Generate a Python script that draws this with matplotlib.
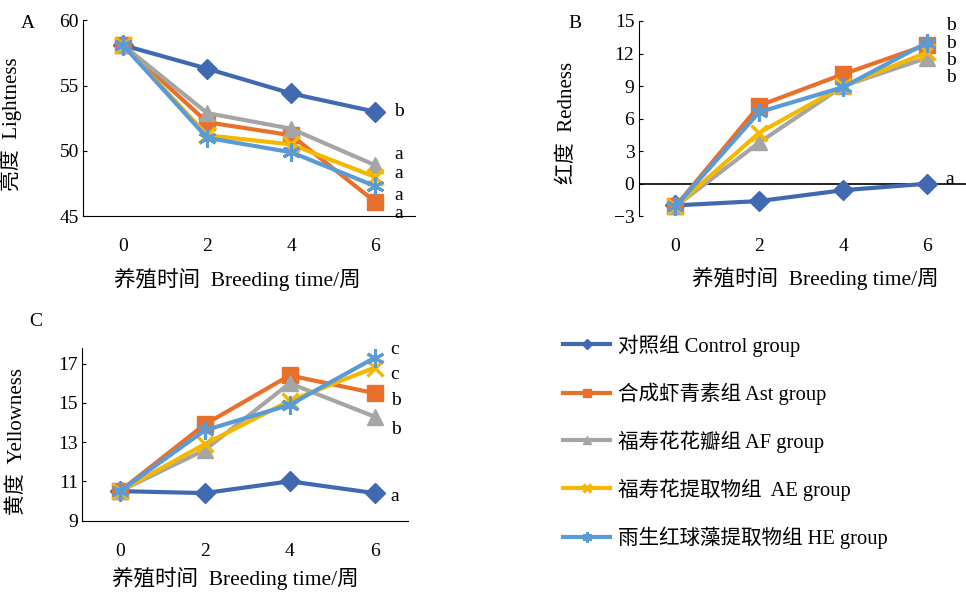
import matplotlib

matplotlib.use("Agg")
import matplotlib.pyplot as plt

plt.rcParams["font.family"] = ["Liberation Serif", "Noto Sans CJK SC"]
plt.rcParams["axes.unicode_minus"] = True

weeks = [0, 2, 4, 6]

groups = ["control", "ast", "af", "ae", "he"]
labels = [
    "对照组 Control group",
    "合成虾青素组 Ast group",
    "福寿花花瓣组 AF group",
    "福寿花提取物组  AE group",
    "雨生红球藻提取物组 HE group",
]

lightness = {
    "control": [58.1, 56.3, 54.4, 53.0],
    "ast": [58.1, 52.2, 51.2, 46.1],
    "af": [58.1, 52.9, 51.7, 48.9],
    "ae": [58.1, 51.2, 50.5, 48.0],
    "he": [58.1, 51.0, 49.9, 47.3],
}
redness = {
    "control": [-2.0, -1.6, -0.6, 0.0],
    "ast": [-2.1, 7.2, 10.1, 12.8],
    "af": [-2.1, 3.8, 9.0, 11.6],
    "ae": [-2.1, 4.7, 9.0, 12.1],
    "he": [-2.1, 6.6, 8.9, 13.0],
}
yellowness = {
    "control": [10.5, 10.4, 11.0, 10.4],
    "ast": [10.5, 13.9, 16.4, 15.5],
    "af": [10.5, 12.6, 16.0, 14.3],
    "ae": [10.5, 12.9, 15.1, 16.8],
    "he": [10.5, 13.6, 14.9, 17.3],
}

# significance letters: (y position, letter)
letters_a = [(53.0, "b"), (49.7, "a"), (48.3, "a"), (46.6, "a"), (45.2, "a")]
letters_b = [(14.6, "b"), (12.9, "b"), (11.35, "b"), (9.8, "b"), (0.37, "a")]
letters_c = [(17.7, "c"), (16.45, "c"), (15.1, "b"), (13.65, "b"), (10.25, "a")]

# group -> (color, marker, size, edge width)
STYLE = {
    "control": ("#4169b2", "D", 10, 1.0),
    "ast": ("#e8702a", "s", 11, 1.0),
    "af": ("#a5a5a5", "^", 11, 1.0),
    "ae": ("#f5b800", "x", 11, 2.5),
    "he": ("#5a9bd5", (6, 2, 0), 13, 2.2),
}

fig = plt.figure(figsize=(9.66, 5.99), dpi=100)
axA = fig.add_axes([0.086, 0.639, 0.344, 0.327])
axB = fig.add_axes([0.661, 0.639, 0.339, 0.326])
axC = fig.add_axes([0.085, 0.131, 0.337, 0.288])

panels = [
    (axA, lightness, (45, 60), [45, 50, 55, 60], (-0.95, 6.95), "亮度  Lightness",
     (-0.184, 0.47), (0.464, -0.265), letters_a, 6.45),
    (axB, redness, (-3, 15), [-3, 0, 3, 6, 9, 12, 15], (-0.88, 6.93), "红度  Redness",
     (-0.187, 0.48), (0.54, -0.26), letters_b, 6.45),
    (axC, yellowness, (9, 17.8), [9, 11, 13, 15, 17], (-0.89, 6.78), "黄度  Yellowness",
     (-0.169, 0.46), (0.472, -0.268), letters_c, 6.38),
]

handles = []
for ax, data, ylim, yticks, xlim, ylabel, ylc, xlc, letters, lx in panels:
    handles = []
    for g in groups:
        color, marker, ms, mew = STYLE[g]
        (h,) = ax.plot(weeks, data[g], "-", color=color, lw=3, marker=marker,
                       ms=ms, mew=mew, mec=color, mfc=color)
        handles.append(h)
    ax.set_xlim(*xlim)
    ax.set_ylim(*ylim)
    ax.set_yticks(yticks)
    ax.set_xticks(weeks)
    ax.spines["top"].set_visible(False)
    ax.spines["right"].set_visible(False)
    ax.tick_params(axis="y", direction="in", length=3, pad=3, labelsize=14)
    ax.tick_params(axis="x", length=0, pad=16, labelsize=14)
    ax.set_ylabel(ylabel, fontsize=15)
    ax.yaxis.set_label_coords(*ylc)
    ax.set_xlabel("养殖时间  Breeding time/周", fontsize=15.5)
    ax.xaxis.set_label_coords(*xlc)
    for y, s in letters:
        ax.text(lx, y, s, fontsize=14, ha="left", va="center", clip_on=False)

# redness panel: x axis runs through zero
axB.spines["bottom"].set_visible(False)
axB.axhline(0, color="black", lw=1.2, zorder=0)

fig.text(0.022, 0.975, "A", fontsize=14, va="top")
fig.text(0.588, 0.975, "B", fontsize=14, va="top")
fig.text(0.030, 0.478, "C", fontsize=14, va="top")

fig.legend(handles, labels, loc="upper left", bbox_to_anchor=(0.583, 0.442),
           frameon=False, fontsize=14.8, labelspacing=1.25, handlelength=2.3,
           handletextpad=0.35, borderpad=0, borderaxespad=0, markerscale=0.55)

fig.savefig("out.png", dpi=100)
